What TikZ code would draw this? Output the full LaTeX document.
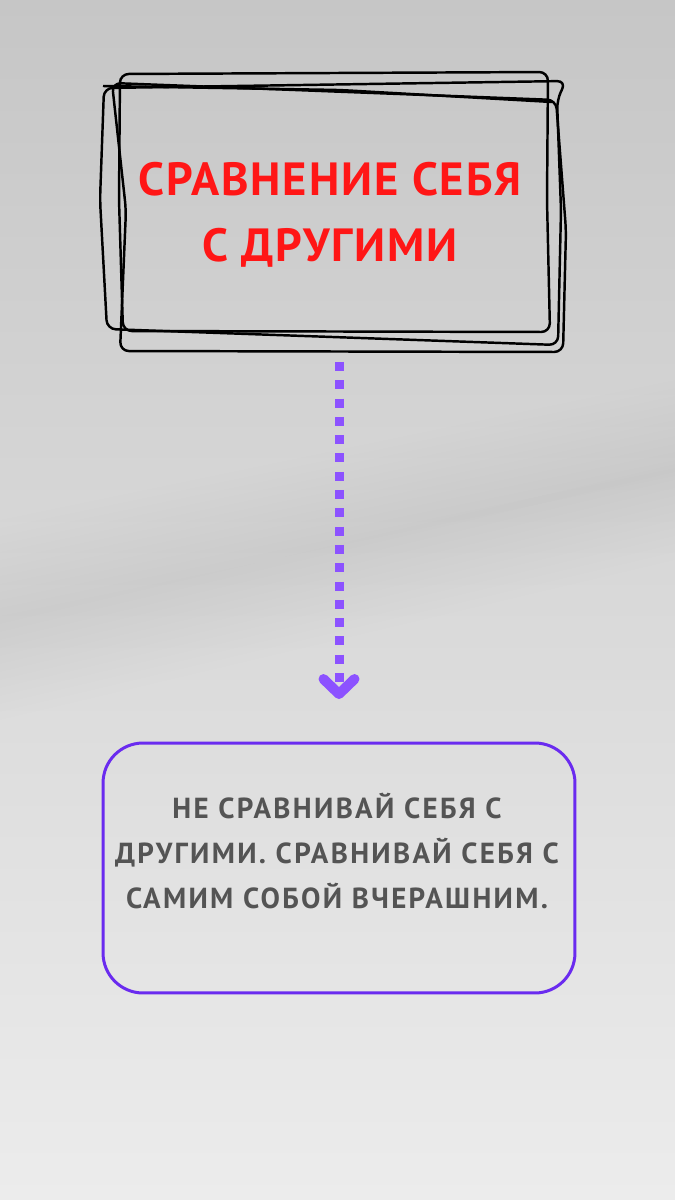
\documentclass[tikz,border=0pt]{standalone}
\usepackage{fontspec}
\setmainfont{PT Sans}
\newfontfamily\titlefont{PT Sans}[LetterSpace=4]
\newfontfamily\advicefont{PT Sans}[LetterSpace=8]
\usetikzlibrary{arrows.meta,positioning}

\definecolor{bgtop}{HTML}{C6C6C6}
\definecolor{bgmid}{HTML}{D6D6D6}
\definecolor{bgbot}{HTML}{ECECEC}
\definecolor{titlered}{HTML}{FF1616}
\definecolor{arrowviolet}{HTML}{8C52FF}
\definecolor{boxviolet}{HTML}{6A2BEF}
\definecolor{textgray}{HTML}{545454}

\tikzset{
  sketch/.style={black, line width=1.4pt, line join=round, rounded corners=5pt},
  frame/.style={inner sep=0pt, outer sep=0pt, minimum width=9.24cm, minimum height=5.6cm,
    text=titlered, font=\titlefont\fontsize{26.5}{37.5}\selectfont\bfseries, align=center},
  lessonbox/.style={draw=boxviolet, line width=1.7pt, rounded corners=0.8cm, inner sep=0pt,
    outer sep=0pt, minimum width=9.44cm, minimum height=5cm},
  advice/.style={text=textgray, font=\advicefont\fontsize{16.5}{25.6}\selectfont\bfseries, align=center},
  flow/.style={arrowviolet, line width=0.18cm, dash pattern=on 0.18cm off 0.186cm,
    shorten <=0.14cm, shorten >=0.88cm,
    -{Straight Barb[length=0.3cm, width=0.62cm, line width=0.2cm, round]}}
}

\begin{document}
\begin{tikzpicture}[x=0.02cm, y=-0.02cm]
    % Background
    \shade[top color=bgtop, middle color=bgmid, bottom color=bgbot] (0,0) rectangle (675,1200);
    \useasboundingbox (0,0) rectangle (675,1200);
    % soft shadow band
    \foreach \d in {0,8,...,96} {
        \fill[black, opacity=0.005] (0,520+\d) -- (675,380+\d) -- (675,560-\d) -- (0,720-\d) -- cycle;
    }

    % Sketched frame
    \draw[sketch] (120,74) -- (548,72) -- (547,200) -- (550,332) -- (123,331) -- (119,200) -- cycle;
    \draw[sketch] (104,88) -- (566,81) -- (557,100) -- (561,210) -- (558,345) -- (107,329) -- (100,200) -- cycle;
    \draw[sketch] (112,83) -- (556,100) -- (566,230) -- (563,352) -- (120,351) -- (126,210) -- cycle;
    \draw[sketch] (103,86) -- (340,90) -- (552,102);

    % Nodes
    \node[frame] (comparison) at (330,215) {СРАВНЕНИЕ СЕБЯ\\С ДРУГИМИ};
    \node[lessonbox] (lesson) at (339,868) {};
    \node[advice] (advicetext) at (337,851) {НЕ СРАВНИВАЙ СЕБЯ С\\ДРУГИМИ. СРАВНИВАЙ СЕБЯ С\\САМИМ СОБОЙ ВЧЕРАШНИМ.};

    % Arrow
    \draw[flow] (comparison.south -| lesson.north) -- (lesson.north);
\end{tikzpicture}
\end{document}
